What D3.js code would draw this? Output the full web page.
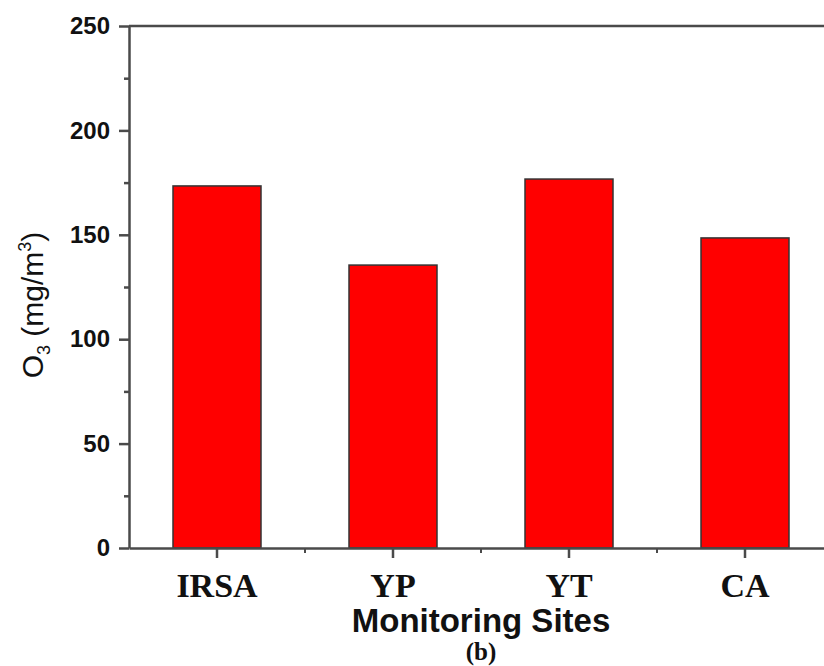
<!DOCTYPE html>
<html>
<head>
<meta charset="utf-8">
<script src="https://cdn.jsdelivr.net/npm/d3@7"></script>
<style>
    html, body { margin: 0; padding: 0; background: #fff; }
    svg { display: block; }
</style>
</head>
<body>
<div id="chart"></div>
<script>
// chart values
var sites = ['IRSA', 'YP', 'YT', 'CA'];
var o3Values = [173.4, 135.5, 176.7, 148.5];
var yMajorTicks = [0, 50, 100, 150, 200, 250];
var yMinorTicks = [25, 75, 125, 175, 225];

var view = { width: 824, height: 666 };
var plot = { left: 129, top: 26, bottom: 548, right: 833 };
var axisColor = '#4a4a4a';

var svg = d3.select('#chart')
    .append('svg')
    .attr('width', view.width)
    .attr('height', view.height);

var x = d3.scaleBand()
    .domain(sites)
    .range([plot.left, plot.right])
    .paddingInner(0.5)
    .paddingOuter(0.25);

var y = d3.scaleLinear()
    .domain([0, 250])
    .range([plot.bottom, plot.top]);

// bars
svg.append('g')
    .selectAll('rect')
    .data(o3Values)
    .join('rect')
    .attr('x', function(d, i) { return x(sites[i]); })
    .attr('y', function(d) { return y(d); })
    .attr('width', x.bandwidth())
    .attr('height', function(d) { return y(0) - y(d); })
    .attr('fill', '#ff0000')
    .attr('stroke', '#333')
    .attr('stroke-width', 1.5);

// top frame line
svg.append('line')
    .attr('x1', plot.left)
    .attr('x2', view.width)
    .attr('y1', y(250))
    .attr('y2', y(250))
    .attr('stroke', axisColor)
    .attr('stroke-width', 2.5);

// y axis, minor ticks first
svg.append('g')
    .attr('transform', 'translate(' + plot.left + ',0)')
    .call(d3.axisLeft(y).tickValues(yMinorTicks).tickSize(5).tickFormat(''))
    .call(function(g) { g.select('.domain').remove(); });

var yAxis = svg.append('g')
    .attr('transform', 'translate(' + plot.left + ',0)')
    .call(d3.axisLeft(y).tickValues(yMajorTicks).tickSize(10).tickSizeOuter(0).tickPadding(9));

// x axis minor ticks sit between sites
var minorX = sites.map(function(s) { return x(s) + x.bandwidth() / 2 + x.step() / 2; });
svg.append('g')
    .selectAll('line')
    .data(minorX)
    .join('line')
    .attr('x1', function(d) { return d; })
    .attr('x2', function(d) { return d; })
    .attr('y1', plot.bottom)
    .attr('y2', plot.bottom + 5)
    .attr('stroke', axisColor)
    .attr('stroke-width', 2);

var xAxis = svg.append('g')
    .attr('transform', 'translate(0,' + plot.bottom + ')')
    .call(d3.axisBottom(x).tickSize(10).tickSizeOuter(0).tickPadding(15));

svg.selectAll('.domain, .tick line')
    .attr('stroke', axisColor)
    .attr('stroke-width', 2.5);

yAxis.selectAll('text')
    .attr('fill', '#111')
    .style('font-family', '"Liberation Sans", Arial, sans-serif')
    .style('font-weight', 'bold')
    .style('font-size', '24px');

xAxis.selectAll('text')
    .attr('fill', '#111')
    .style('font-family', '"Liberation Serif", "Times New Roman", serif')
    .style('font-weight', 'bold')
    .style('font-size', '34px');

// axis titles
var midX = (plot.left + plot.right) / 2;

svg.append('text')
    .attr('x', midX)
    .attr('y', 632)
    .attr('text-anchor', 'middle')
    .style('font-family', '"Liberation Sans", Arial, sans-serif')
    .style('font-weight', 'bold')
    .style('font-size', '33px')
    .attr('fill', '#111')
    .text('Monitoring Sites');

svg.append('text')
    .attr('x', midX)
    .attr('y', 660)
    .attr('text-anchor', 'middle')
    .style('font-family', '"Liberation Serif", "Times New Roman", serif')
    .style('font-weight', 'bold')
    .style('font-size', '25px')
    .attr('fill', '#111')
    .text('(b)');

var yTitle = svg.append('text')
    .attr('transform', 'translate(43,305) rotate(-90)')
    .attr('text-anchor', 'middle')
    .style('font-family', '"Liberation Sans", Arial, sans-serif')
    .style('font-size', '30px')
    .attr('fill', '#111');

yTitle.append('tspan').text('O');
yTitle.append('tspan').attr('dy', 7).style('font-size', '18px').text('3');
yTitle.append('tspan').attr('dy', -7).text(' (mg/m');
yTitle.append('tspan').attr('dy', -12).style('font-size', '18px').text('3');
yTitle.append('tspan').attr('dy', 12).text(')');
</script>
</body>
</html>
